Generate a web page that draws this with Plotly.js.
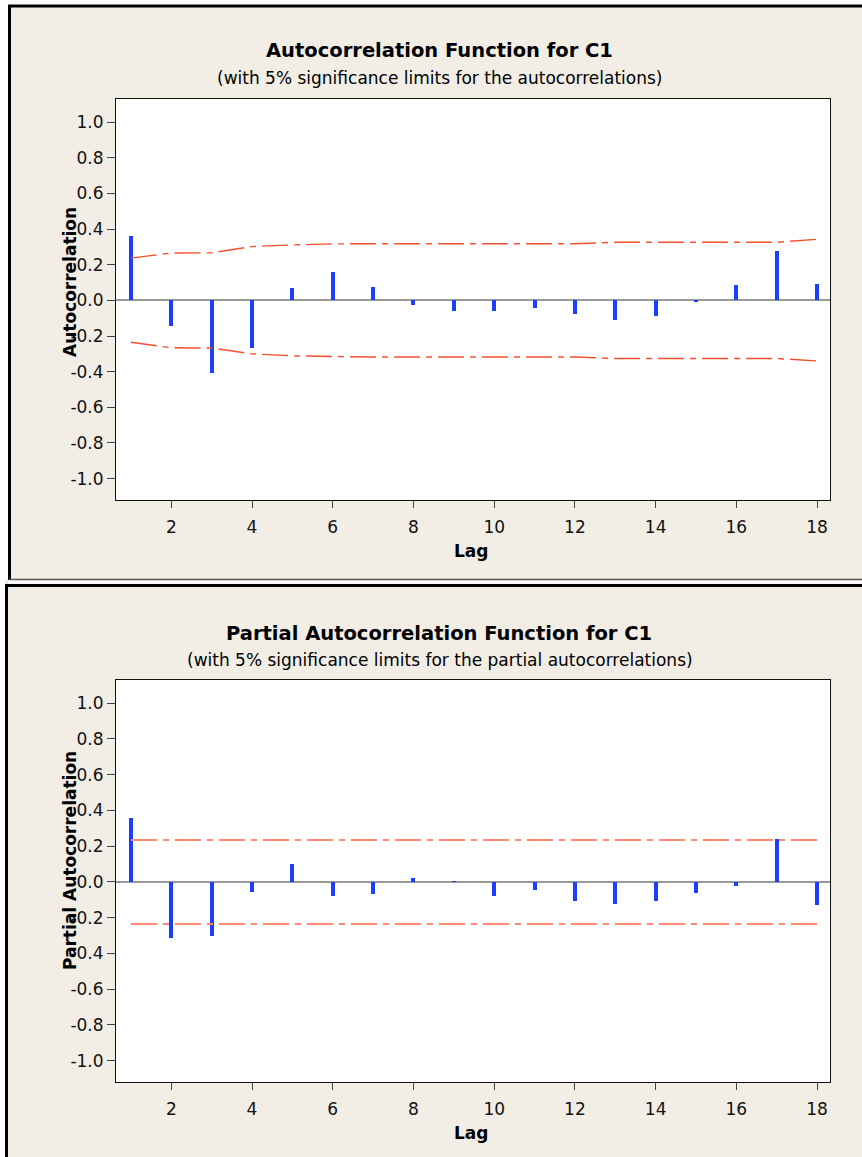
<!DOCTYPE html>
<html><head><meta charset="utf-8">
<script src="https://cdn.plot.ly/plotly-3.0.1.min.js"></script>
<style>html,body{margin:0;padding:0;background:#fff}</style>
</head><body><div id="chart" style="width:862px;height:1157px"></div>
<script>
// ---- data ----
const lags = [1,2,3,4,5,6,7,8,9,10,11,12,13,14,15,16,17,18];
const acf = [0.36,-0.145,-0.41,-0.268,0.069,0.16,0.077,-0.028,-0.061,-0.061,-0.045,-0.078,-0.112,-0.087,-0.011,0.086,0.278,0.093];
const acfUpper = [0.237,0.266,0.267,0.302,0.311,0.317,0.318,0.318,0.318,0.318,0.318,0.318,0.326,0.326,0.326,0.326,0.326,0.343];
const acfLower = [-0.235,-0.266,-0.267,-0.300,-0.311,-0.316,-0.318,-0.318,-0.318,-0.318,-0.318,-0.318,-0.326,-0.326,-0.326,-0.326,-0.326,-0.340];
const pacf = [0.36,-0.316,-0.301,-0.056,0.102,-0.081,-0.065,0.024,0.007,-0.081,-0.047,-0.107,-0.123,-0.107,-0.064,-0.022,0.241,-0.131];
const pacfUpper = [0.235,0.235,0.235,0.235,0.235,0.235,0.235,0.235,0.235,0.235,0.235,0.235,0.235,0.235,0.235,0.235,0.235,0.235];
const pacfLower = [-0.235,-0.235,-0.235,-0.235,-0.235,-0.235,-0.235,-0.235,-0.235,-0.235,-0.235,-0.235,-0.235,-0.235,-0.235,-0.235,-0.235,-0.235];
const xTickVals = [2,4,6,8,10,12,14,16,18];
const yTickVals = [-1.0,-0.8,-0.6,-0.4,-0.2,0.0,0.2,0.4,0.6,0.8,1.0];
const yTickText = ['-1.0','-0.8','-0.6','-0.4','-0.2','0.0','0.2','0.4','0.6','0.8','1.0'];
const acfTitle = 'Autocorrelation Function for C1';
const acfSub = '(with 5% significance limits for the autocorrelations)';
const pacfTitle = 'Partial Autocorrelation Function for C1';
const pacfSub = '(with 5% significance limits for the partial autocorrelations)';
const acfYLabel = 'Autocorrelation';
const pacfYLabel = 'Partial Autocorrelation';
const xLabel = 'Lag';

// ---- helpers ----
const W = 862, H = 1157;
const px = x => x / W;
const py = y => 1 - y / H;
const FONT = 'DejaVu Sans, Verdana, sans-serif';
const barColor = '#1c3fff';
const DASH = '26px,6px,6px,6px';

const traces = [
  {type:'bar', x:lags, y:acf, width:0.1, marker:{color:barColor, line:{width:0}}, xaxis:'x', yaxis:'y'},
  {type:'scatter', mode:'lines', x:lags, y:acfUpper, line:{color:'#f4502e', width:1.4, dash:DASH}, xaxis:'x', yaxis:'y'},
  {type:'scatter', mode:'lines', x:lags, y:acfLower, line:{color:'#f4502e', width:1.4, dash:DASH}, xaxis:'x', yaxis:'y'},
  {type:'bar', x:lags, y:pacf, width:0.1, marker:{color:barColor, line:{width:0}}, xaxis:'x2', yaxis:'y2'},
  {type:'scatter', mode:'lines', x:lags, y:pacfUpper, line:{color:'#ff8a74', width:2, dash:DASH}, xaxis:'x2', yaxis:'y2'},
  {type:'scatter', mode:'lines', x:lags, y:pacfLower, line:{color:'#ff8a74', width:2, dash:DASH}, xaxis:'x2', yaxis:'y2'}
];

function xAx(anchor){
  return {domain:[px(116), px(830)], anchor:anchor, range:[0.63,18.32], tickvals:xTickVals,
    ticks:'outside', ticklen:7, tickwidth:1, tickcolor:'#444', ticklabelstandoff:5, showline:true, mirror:true,
    linecolor:'#111', linewidth:1, showgrid:false, zeroline:false,
    tickfont:{family:FONT, size:17, color:'#111'}, fixedrange:true};
}
function yAx(top, bottom, anchor){
  return {domain:[py(bottom), py(top)], anchor:anchor, range:[-1.12,1.13], tickvals:yTickVals, ticktext:yTickText,
    ticks:'outside', ticklen:8, tickwidth:1, tickcolor:'#444', showline:true, mirror:true,
    linecolor:'#111', linewidth:1, showgrid:false, zeroline:true, zerolinecolor:'#9a9a9a', zerolinewidth:2,
    tickfont:{family:FONT, size:17, color:'#111'}, fixedrange:true};
}

const ann = (text, x, y, size, bold, extra) => Object.assign({
  text: bold ? '<b>'+text+'</b>' : text, x:px(x), y:py(y), xref:'paper', yref:'paper',
  xanchor:'center', yanchor:'middle', showarrow:false,
  font:{family:FONT, size:size, color:'#000'}
}, extra||{});

const annotations = [
  ann(acfTitle, 439, 51, 19.5, true),
  ann(acfSub, 440, 78, 17, false),
  ann(acfYLabel, 70, 282, 17, true, {textangle:-90}),
  ann(xLabel, 471, 551, 17, true),
  ann(pacfTitle, 439, 633, 19.5, true),
  ann(pacfSub, 440, 660, 17, false),
  ann(pacfYLabel, 70, 861, 17, true, {textangle:-90}),
  ann(xLabel, 471, 1133, 17, true)
];

const line = (x0,y0,x1,y1,color,w) => ({type:'line', xref:'paper', yref:'paper', x0:px(x0), y0:py(y0), x1:px(x1), y1:py(y1), line:{color:color, width:w}, layer:'above'});
const rect = (x0,y0,x1,y1,color) => ({type:'rect', xref:'paper', yref:'paper', x0:px(x0), y0:py(y0), x1:px(x1), y1:py(y1), fillcolor:color, line:{width:0}, layer:'below'});

const shapes = [
  rect(0,0,W,5,'#ffffff'),
  rect(0,0,8,580,'#ffffff'),
  rect(0,580,5,H,'#ffffff'),
  rect(8,580,W,583.5,'#ffffff'),
  line(8,6,W,6,'#000',3),
  line(9.5,5,9.5,580,'#000',3),
  line(9,579.5,W,579.5,'#555',1.5),
  line(5,585.5,W,585.5,'#000',3),
  line(6.5,584,6.5,H,'#000',3)
];

const layout = {
  width:W, height:H, margin:{l:0,r:0,t:0,b:0},
  paper_bgcolor:'#f2eee6', plot_bgcolor:'#ffffff',
  showlegend:false, bargap:0,
  xaxis: xAx('y'), yaxis: yAx(99,500,'x'),
  xaxis2: xAx('y2'), yaxis2: yAx(680,1082,'x2'),
  annotations: annotations, shapes: shapes,
  font:{family:FONT}
};

Plotly.newPlot('chart', traces, layout, {displayModeBar:false, staticPlot:true});
</script></body></html>
